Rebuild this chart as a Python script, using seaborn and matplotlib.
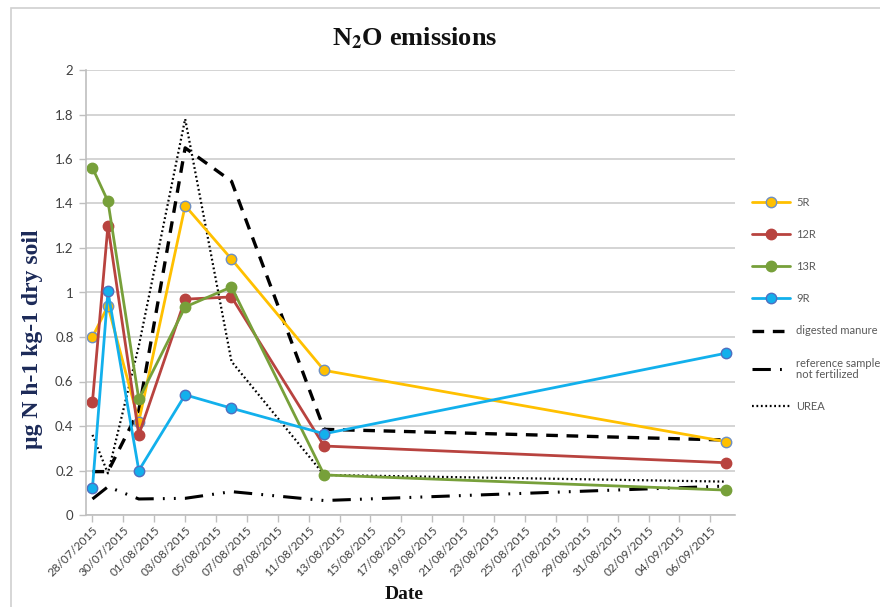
import matplotlib
matplotlib.use("Agg")
import matplotlib.pyplot as plt
import matplotlib.dates as mdates
from matplotlib.ticker import FuncFormatter, MultipleLocator
from matplotlib.patches import Rectangle
import seaborn as sns
import pandas as pd

# ---- data ----
dates = ["2015-07-28", "2015-07-29", "2015-07-31", "2015-08-03",
         "2015-08-06", "2015-08-12", "2015-09-07"]
r5 = [0.80, 0.94, 0.42, 1.39, 1.15, 0.65, 0.33]
r12 = [0.51, 1.30, 0.36, 0.97, 0.98, 0.31, 0.235]
r13 = [1.56, 1.41, 0.52, 0.935, 1.025, 0.18, 0.112]
r9 = [0.123, 1.005, 0.20, 0.54, 0.48, 0.365, 0.727]
digested = [0.195, 0.195, 0.47, 1.65, 1.50, 0.385, 0.337]
reference = [0.072, 0.127, 0.072, 0.075, 0.105, 0.065, 0.13]
urea = [0.36, 0.187, 0.76, 1.78, 0.69, 0.18, 0.15]

labels = ["5R", "12R", "13R", "9R", "digested manure",
          "reference sample\nnot fertilized", "UREA"]
tick_start = "2015-07-28"
tick_end = "2015-09-06"

x = pd.to_datetime(dates)

sns.set_theme(style="white")
plt.rcParams["font.family"] = ["Lato", "DejaVu Sans"]
plt.rcParams["mathtext.fontset"] = "stix"

fig = plt.figure(figsize=(8.8, 6.07), dpi=100)
ax = fig.add_axes([86 / 880, 1 - 515 / 607, (735 - 86) / 880, (515 - 70) / 607])

# black reference series
sns.lineplot(x=x, y=digested, ax=ax, color="black", lw=2.4,
             label=labels[4]).lines[-1].set_dashes((3.5, 2.6))
sns.lineplot(x=x, y=reference, ax=ax, color="black", lw=2.2,
             label=labels[5]).lines[-1].set_dashes((6, 3, 0.6, 3, 0.6, 3))
sns.lineplot(x=x, y=urea, ax=ax, color="black", lw=1.6,
             label=labels[6]).lines[-1].set_dashes((0.8, 1.2))

series = [
    (r5, "#FFC000", "#6F8FC0", labels[0]),
    (r12, "#B8433F", "#B8433F", labels[1]),
    (r13, "#77A03A", "#77A03A", labels[2]),
    (r9, "#12B0EC", "#4F6FC0", labels[3]),
]
for vals, col, edge, lab in series:
    sns.lineplot(x=x, y=vals, ax=ax, color=col, lw=2.0, marker="o",
                 markersize=7.5, markerfacecolor=col, markeredgecolor=edge,
                 markeredgewidth=1.0, label=lab)

# axes styling
x0 = pd.Timestamp(dates[0])
ax.set_xlim(x0 - pd.Timedelta(days=0.42), pd.Timestamp(dates[-1]) + pd.Timedelta(days=0.6))
ax.set_ylim(0, 2)
ax.yaxis.set_major_locator(MultipleLocator(0.2))
ax.yaxis.set_major_formatter(FuncFormatter(lambda v, p: f"{v:g}"))
ax.set_xticks(pd.date_range(tick_start, tick_end, freq="2D"))
ax.xaxis.set_major_formatter(mdates.DateFormatter("%d/%m/%Y"))
ax.grid(axis="y", color="#D4D4D4", lw=1.4)
ax.grid(axis="x", visible=False)
for s in ["top", "right"]:
    ax.spines[s].set_visible(False)
for s in ["left", "bottom"]:
    ax.spines[s].set_color("#BFBFBF")
    ax.spines[s].set_linewidth(1.2)
ax.tick_params(axis="both", which="major", direction="out", length=5,
               color="#BFBFBF", width=1, bottom=True, left=True,
               labelcolor="#404040")
ax.tick_params(axis="y", labelsize=9.5, pad=4)
ax.tick_params(axis="x", labelsize=8.5, pad=2)
for lbl in ax.get_xticklabels():
    lbl.set_rotation(45)
    lbl.set_ha("right")
    lbl.set_rotation_mode("anchor")

ax.set_xlabel("Date", family="Liberation Serif", fontweight="bold",
              fontsize=14, color="#111111")
ax.set_ylabel("µg N h-1 kg-1 dry soil", family="Liberation Serif",
              fontweight="bold", fontsize=17, color="#1C2A58")
ax.yaxis.set_label_coords(-0.066, 0.395)
ax.xaxis.set_label_coords(0.49, -0.16)

fig.text(415 / 880, 1 - 38 / 607, r"N$_\mathbf{2}$O emissions",
         family="Liberation Serif", fontweight="bold", fontsize=19,
         ha="center", va="center", color="#111111")

# legend in the Excel order
h, l = ax.get_legend_handles_labels()
hmap = dict(zip(l, h))
leg = ax.legend([hmap[t] for t in labels], labels, loc="upper left",
                bbox_to_anchor=(742 / 880, 1 - 187 / 607),
                bbox_transform=fig.transFigure, frameon=False,
                fontsize=8, handlelength=3.4, labelspacing=1.9,
                handletextpad=0.6, labelcolor="#595959")
for t in leg.get_texts():
    t.set_linespacing(1.0)

# chart-area border (left and top visible)
fig.patches.append(Rectangle((10.5 / 880, -0.05), 1.2, 1 - 7.5 / 607 + 0.05,
                             transform=fig.transFigure, fill=False,
                             edgecolor="#D0D0D0", lw=1.2))

fig.savefig("out.png", dpi=100)
